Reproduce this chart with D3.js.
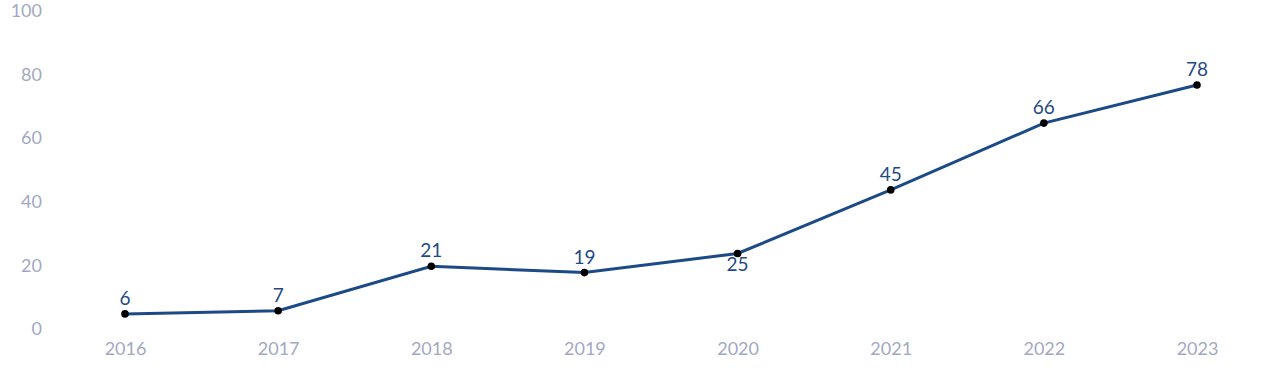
<!DOCTYPE html>
<html>
<head>
<meta charset="utf-8">
<script src="https://cdn.jsdelivr.net/npm/d3@7"></script>
<style>
  body { margin: 0; background: #fff; }
  svg text { font-family: Lato, "Noto Sans", sans-serif; }
</style>
</head>
<body>
<div class="chart"></div>
<script>
const years = ["2016", "2017", "2018", "2019", "2020", "2021", "2022", "2023"];
const values = [6, 7, 21, 19, 25, 45, 66, 78];
const labelBelow = ["2020"];
const yTicks = [0, 20, 40, 60, 80, 100];

const w = 1280;
const h = 382;

const svg = d3.select(".chart")
  .append("svg")
  .attr("width", w)
  .attr("height", h);

const xScale = d3.scalePoint()
  .domain(years)
  .range([125, 1197]);

const yScale = d3.scaleLinear()
  .domain([0, 100])
  .range([333, 15]);

// y axis labels only, no lines
const yAxis = d3.axisLeft(yScale)
  .tickValues(yTicks)
  .tickSize(0)
  .tickPadding(0);

svg.append("g")
  .attr("transform", "translate(42,-4)")
  .call(yAxis)
  .call(g => g.select(".domain").remove())
  .call(g => g.selectAll("text")
    .attr("fill", "#a3a8c4")
    .style("font-size", "18px"));

const xAxis = d3.axisBottom(xScale)
  .tickSize(0)
  .tickPadding(0);

svg.append("g")
  .attr("transform", "translate(0,342)")
  .call(xAxis)
  .call(g => g.select(".domain").remove())
  .call(g => g.selectAll("text")
    .attr("fill", "#a3a8c4")
    .style("font-size", "18px"));

const data = years.map((y, i) => ({ year: y, value: values[i] }));

const line = d3.line()
  .x(d => xScale(d.year))
  .y(d => yScale(d.value));

svg.append("path")
  .datum(data)
  .attr("d", line)
  .attr("fill", "none")
  .attr("stroke", "#1c4a86")
  .attr("stroke-width", 3);

svg.selectAll("circle")
  .data(data)
  .enter()
  .append("circle")
  .attr("cx", d => xScale(d.year))
  .attr("cy", d => yScale(d.value))
  .attr("r", 3.8)
  .attr("fill", "#000");

svg.selectAll(".value-label")
  .data(data)
  .enter()
  .append("text")
  .attr("class", "value-label")
  .attr("x", d => xScale(d.year))
  .attr("y", d => yScale(d.value) + (labelBelow.includes(d.year) ? 17 : -9))
  .attr("text-anchor", "middle")
  .attr("fill", "#1f4a85")
  .style("font-size", "19px")
  .text(d => d.value);
</script>
</body>
</html>
